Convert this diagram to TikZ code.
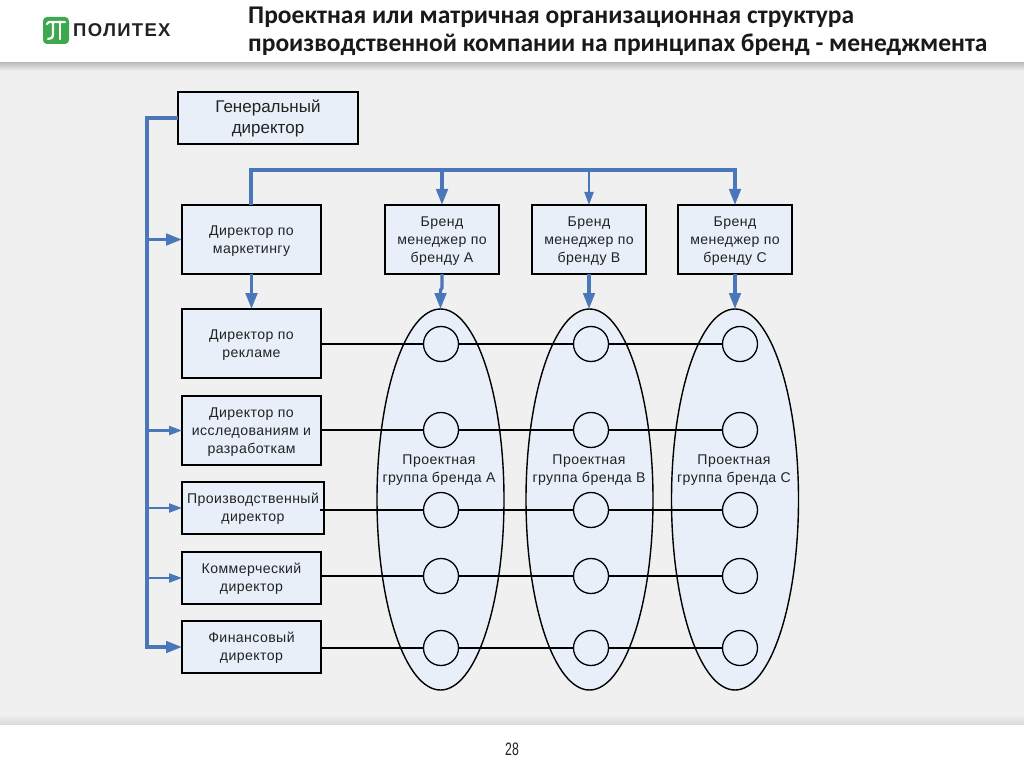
\documentclass[tikz,border=0pt]{standalone}
\usepackage{fontspec}
\setmainfont{Liberation Sans}
\newfontfamily\titlefont{Carlito}
\usetikzlibrary{arrows.meta,shapes.geometric,positioning}
\definecolor{flow}{HTML}{4A76BA}
\definecolor{boxfill}{HTML}{E9EFF9}
\definecolor{pagebg}{HTML}{F0F0F0}
\definecolor{logogreen}{HTML}{3DA84E}
\definecolor{inkdark}{HTML}{222222}
\tikzset{
  orgbox/.style={draw=black,line width=1.5pt,fill=boxfill,inner sep=0pt,outer sep=0pt,align=center,text=inkdark,font=\fontsize{14.1}{17.8}\selectfont\addfontfeature{LetterSpace=3},anchor=north west},
  bigtext/.style={font=\fontsize{17}{20.8}\selectfont},
  groupell/.style={ellipse,draw=black,line width=1.4pt,fill=boxfill,inner sep=0pt,outer sep=0pt,minimum width=127pt,minimum height=381pt},
  member/.style={circle,draw=black,line width=1.3pt,fill=boxfill,inner sep=0pt,outer sep=0pt,minimum size=35pt},
  grouplabel/.style={align=center,text=inkdark,font=\fontsize{14.1}{18}\selectfont\addfontfeature{LetterSpace=3}},
  tie/.style={draw=black,line width=1.2pt},
  thickflow/.style={draw=flow,line width=3.2pt},
  thinflow/.style={draw=flow,line width=2.1pt},
  bigarrow/.style={-{Triangle[length=16pt,width=11.5pt]}},
  smallarrow/.style={-{Triangle[length=13pt,width=9pt]}},
}
\newcommand{\orgb}[7][]{\node[orgbox,#1,minimum width=#5pt,minimum height=#6pt] (#2) at (#3pt,-#4pt) {\raisebox{-1.2pt}[\height][\depth]{\begin{tabular}{@{}c@{}}#7\end{tabular}}};}
\begin{document}
\begin{tikzpicture}[x=1pt,y=-1pt]
\useasboundingbox (0,0) rectangle (1024,767);
\fill[white] (0,0) rectangle (1024,767);
\fill[pagebg] (0,66) rectangle (1024,722);
\shade[top color=black!25,bottom color=pagebg] (0,63) rectangle (1024,71);
\shade[top color=pagebg,bottom color=black!14] (0,714) rectangle (1024,724);
% logo
\fill[logogreen,rounded corners=4pt] (43,17) rectangle (69,44);
\draw[white,line width=2.2pt,line cap=round] (47,24) .. controls (48,22) and (49,22) .. (51,22) -- (65,22);
\draw[white,line width=2.2pt,line cap=round] (53,22) -- (53,34) .. controls (53,38) and (51,39) .. (48,39);
\draw[white,line width=2.2pt,line cap=round] (60,22) -- (60,39);
\node[anchor=west,inner sep=0pt,text=inkdark] (logotext) at (73,30.5) {\fontsize{18.5}{20}\selectfont\bfseries\addfontfeature{LetterSpace=7}ПОЛИТЕХ};
% title
\node[anchor=north west,inner sep=0pt,align=left,text=black!90,font=\titlefont\bfseries\fontsize{25.5}{28}\selectfont] (title) at (248,7) {Проектная или матричная организационная структура\\производственной компании на принципах бренд - менеджмента};
\node[inner sep=0pt,text=inkdark] (pagenum) at (512,749) {\scalebox{0.68}[1]{\fontsize{18}{20}\selectfont 28}};
% boxes
\orgb[bigtext]{gd}{178}{92}{180}{52}{Генеральный\\директор}
\orgb{mkt}{182}{205}{139}{69}{Директор по\\маркетингу}
\orgb{adv}{182}{309}{139}{69}{Директор по\\рекламе}
\orgb{rnd}{182}{396}{139}{69}{Директор по\\исследованиям и\\разработкам}
\orgb{prod}{182}{482}{142}{52}{Производственный\\директор}
\orgb{comm}{182}{552}{139}{52}{Коммерческий\\директор}
\orgb{fin}{182}{621}{139}{52}{Финансовый\\директор}
\orgb{ba}{385}{205}{114}{69}{Бренд\\менеджер по\\бренду A}
\orgb{bb}{532}{205}{114}{69}{Бренд\\менеджер по\\бренду B}
\orgb{bc}{678}{205}{114}{69}{Бренд\\менеджер по\\бренду C}
% ellipses
\node[groupell] (ea) at (440.5,499.5) {};
\node[groupell] (eb) at (589.5,499.5) {};
\node[groupell] (ec) at (735,499.5) {};
\node[grouplabel] (la) at (439,470) {Проектная\\группа бренда A};
\node[grouplabel] (lb) at (589,470) {Проектная\\группа бренда B};
\node[grouplabel] (lc) at (734,470) {Проектная\\группа бренда C};
% member circles
\foreach \r/\yy in {1/344,2/430,3/510,4/576,5/648}{
  \node[member] (a\r) at (441,\yy) {};
  \node[member] (b\r) at (591,\yy) {};
  \node[member] (c\r) at (740,\yy) {};
  \draw[tie] (a\r) -- (b\r);
  \draw[tie] (b\r) -- (c\r);
}
\draw[tie] (adv.east |- a1) -- (a1);
\draw[tie] (rnd.east |- a2) -- (a2);
\draw[tie] ([xshift=-4pt]prod.east |- a3) -- (a3);
\draw[tie] (comm.east |- a4) -- (a4);
\draw[tie] (fin.east |- a5) -- (a5);
% blue trunk
\coordinate (trunktop) at (147,118);
\coordinate (bustop) at (251,170);
\draw[thickflow,bigarrow] (trunktop -| gd.west) -- (trunktop) -- (trunktop |- fin.west) -- (fin.west);
\draw[thickflow,bigarrow] (trunktop |- mkt.west) -- (mkt.west);
\draw[thinflow,smallarrow] (trunktop |- rnd.west) -- (rnd.west);
\draw[thinflow,smallarrow] (trunktop |- prod.west) -- (prod.west);
\draw[thinflow,smallarrow] (trunktop |- comm.west) -- (comm.west);
\draw[thickflow,bigarrow] (mkt.south) -- (adv.north);
% top bus
\draw[thickflow,bigarrow] (mkt.north -| bustop) -- (bustop) -- (bustop -| bc.north) -- (bc.north);
\draw[thickflow,bigarrow] (bustop -| ba.north) -- (ba.north);
\draw[thinflow,smallarrow] (bustop -| bb.north) -- (bb.north);
% brand to group
\draw[thickflow,bigarrow] (ba.south) -- ([yshift=-14pt]ba.south) -- ([yshift=-16pt]ba.south -| ea.north) -- (ea.north);
\draw[thickflow,bigarrow] (bb.south) -- (bb.south |- eb.north);
\draw[thickflow,bigarrow] (bc.south) -- (bc.south |- ec.north);
\end{tikzpicture}
\end{document}
